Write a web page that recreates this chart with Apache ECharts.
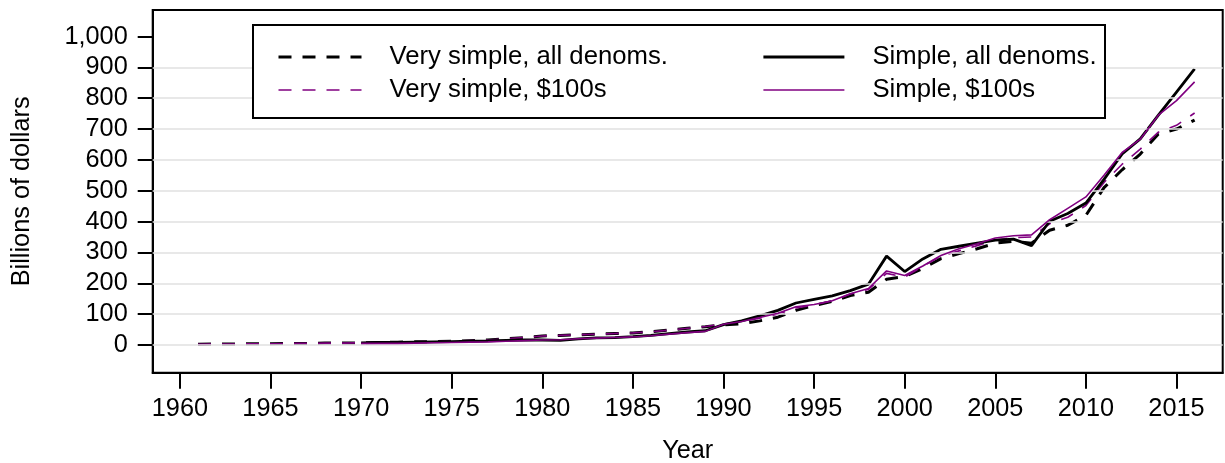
<!DOCTYPE html>
<html>
<head>
<meta charset="utf-8">
<script src="https://cdn.jsdelivr.net/npm/echarts@6/dist/echarts.min.js"></script>
<style>
  html, body { margin: 0; padding: 0; background: #fff; }
  #chart { width: 1225px; height: 463px; }
</style>
</head>
<body>
<div id="chart"></div>
<script>
// 年份 1961-2016
const years = []
for (let y = 1961; y <= 2016; y++) years.push(y)

// Very simple, all denoms.
const verySimpleAll = [2, 3, 3, 4, 4, 5, 5, 6, 6, 7,
  8, 9, 10, 11, 12, 14, 16, 20, 24, 29,
  31, 33, 35, 37, 39, 43, 48, 54, 59, 65,
  69, 78, 90, 112, 128, 141, 160, 171, 213, 222,
  248, 280, 296, 312, 330, 336, 330, 372, 388, 420,
  510, 568, 619, 684, 700, 729]

// Very simple, $100s
const verySimple100 = [2, 3, 3, 4, 4, 5, 5, 6, 6, 7,
  8, 9, 10, 11, 12, 14, 16, 20, 24, 29,
  31, 33, 35, 37, 39, 43, 48, 54, 60, 68,
  76, 87, 100, 120, 130, 143, 165, 180, 232, 220,
  255, 288, 305, 322, 340, 348, 350, 393, 414, 452,
  527, 586, 635, 690, 712, 752]

// Simple, all denoms. (从 1970 开始)
const simpleAll = [null, null, null, null, null, null, null, null, null, 7,
  8, 8, 9, 10, 11, 12, 13, 15, 16, 16,
  15, 20, 23, 24, 27, 31, 37, 42, 46, 66,
  78, 94, 112, 136, 148, 159, 176, 197, 288, 238,
  279, 310, 320, 330, 340, 343, 322, 401, 426, 460,
  537, 619, 668, 745, 820, 895]

// Simple, $100s
const simple100 = [null, null, null, null, null, null, null, null, null, 5,
  5, 5, 6, 7, 8, 9, 10, 12, 14, 16,
  17, 20, 22, 24, 26, 30, 35, 40, 44, 67,
  76, 89, 103, 124, 131, 143, 166, 183, 240, 225,
  256, 290, 312, 328, 347, 354, 357, 406, 443, 480,
  550, 624, 667, 745, 792, 853]

// 刻度
const xTicks = [1960, 1965, 1970, 1975, 1980, 1985, 1990, 1995, 2000, 2005, 2010, 2015]
const yTicks = [0, 100, 200, 300, 400, 500, 600, 700, 800, 900, 1000]
const gridValues = [0, 100, 200, 300, 400, 500, 600, 700, 800, 900]

const FONT = '"Liberation Sans", Arial, sans-serif'
const PURPLE = '#800080'
const DASH = [13, 11]

const toPairs = (vals) => years.map((y, i) => [y, vals[i]])

const chart = echarts.init(document.getElementById('chart'))

const legendText = { fontFamily: FONT, fontSize: 25.7, color: '#000', lineHeight: 30 }

const option = {
  animation: false,
  textStyle: { fontFamily: FONT, color: '#000' },
  grid: {
    left: 152.7,
    right: 2.3,
    top: 10,
    bottom: 90.3,
    outerBoundsMode: 'none',
    containLabel: false,
    show: true,
    borderColor: '#000',
    borderWidth: 2
  },
  graphic: [
    {
      type: 'rect',
      shape: { x: 253, y: 25, width: 852, height: 93 },
      style: { fill: '#fff', stroke: '#000', lineWidth: 2 },
      z: 100
    }
  ],
  legend: [
    {
      orient: 'vertical',
      left: 272,
      top: 37,
      itemWidth: 83,
      itemHeight: 20,
      itemGap: 3,
      z: 110,
      itemStyle: { opacity: 0 },
      data: [
        { name: 'Very simple, all denoms.', lineStyle: { width: 3, type: DASH, color: '#000' } },
        { name: 'Very simple, $100s', lineStyle: { width: 1.6, type: DASH, color: PURPLE } }
      ],
      textStyle: Object.assign({ padding: [0, 0, 0, 23] }, legendText)
    },
    {
      orient: 'vertical',
      left: 757,
      top: 37,
      itemWidth: 81,
      itemHeight: 20,
      itemGap: 3,
      z: 110,
      itemStyle: { opacity: 0 },
      data: [
        { name: 'Simple, all denoms.', lineStyle: { width: 2.8, color: '#000' } },
        { name: 'Simple, $100s', lineStyle: { width: 1.6, color: PURPLE } }
      ],
      textStyle: Object.assign({ padding: [0, 0, 0, 23] }, legendText)
    }
  ],
  xAxis: {
    type: 'value',
    min: 1958.5,
    max: 2017.55,
    name: 'Year',
    nameLocation: 'middle',
    nameGap: 66,
    nameTextStyle: { fontFamily: FONT, fontSize: 25.3, color: '#000' },
    axisLine: { show: true, onZero: false, lineStyle: { color: '#000', width: 2 } },
    axisTick: { show: true, length: 16, customValues: xTicks, lineStyle: { color: '#000', width: 2 } },
    axisLabel: {
      customValues: xTicks,
      margin: 24,
      fontFamily: FONT,
      fontSize: 25.3,
      color: '#000',
      formatter: (v) => String(v)
    },
    splitLine: { show: false }
  },
  yAxis: {
    type: 'value',
    min: -90,
    max: 1086,
    name: 'Billions of dollars',
    nameLocation: 'middle',
    nameGap: 118,
    nameTextStyle: { fontFamily: FONT, fontSize: 25.3, color: '#000' },
    axisLine: { show: true, onZero: false, lineStyle: { color: '#000', width: 2 } },
    axisTick: { show: true, length: 15, customValues: yTicks, lineStyle: { color: '#000', width: 2 } },
    axisLabel: {
      customValues: yTicks,
      margin: 25,
      fontFamily: FONT,
      fontSize: 25.3,
      color: '#000',
      formatter: (v) => v.toLocaleString('en-US')
    },
    splitLine: { show: false }
  },
  series: [
    // 网格线
    {
      name: 'grid',
      type: 'line',
      data: [],
      silent: true,
      z: 1,
      markLine: {
        silent: true,
        symbol: 'none',
        label: { show: false },
        lineStyle: { color: '#e0e0e0', width: 1.5, type: 'solid' },
        data: gridValues.map(v => ({ yAxis: v }))
      }
    },
    {
      name: 'Very simple, all denoms.',
      type: 'line',
      data: toPairs(verySimpleAll),
      symbol: 'none',
      z: 2,
      lineStyle: { color: '#000', width: 3, type: DASH },
      itemStyle: { color: '#000' }
    },
    {
      name: 'Very simple, $100s',
      type: 'line',
      data: toPairs(verySimple100),
      symbol: 'none',
      z: 3,
      lineStyle: { color: PURPLE, width: 1.6, type: DASH },
      itemStyle: { color: PURPLE }
    },
    {
      name: 'Simple, all denoms.',
      type: 'line',
      data: toPairs(simpleAll),
      symbol: 'none',
      z: 4,
      lineStyle: { color: '#000', width: 2.8 },
      itemStyle: { color: '#000' }
    },
    {
      name: 'Simple, $100s',
      type: 'line',
      data: toPairs(simple100),
      symbol: 'none',
      z: 5,
      lineStyle: { color: PURPLE, width: 1.6 },
      itemStyle: { color: PURPLE }
    }
  ]
}

chart.setOption(option)
</script>
</body>
</html>
